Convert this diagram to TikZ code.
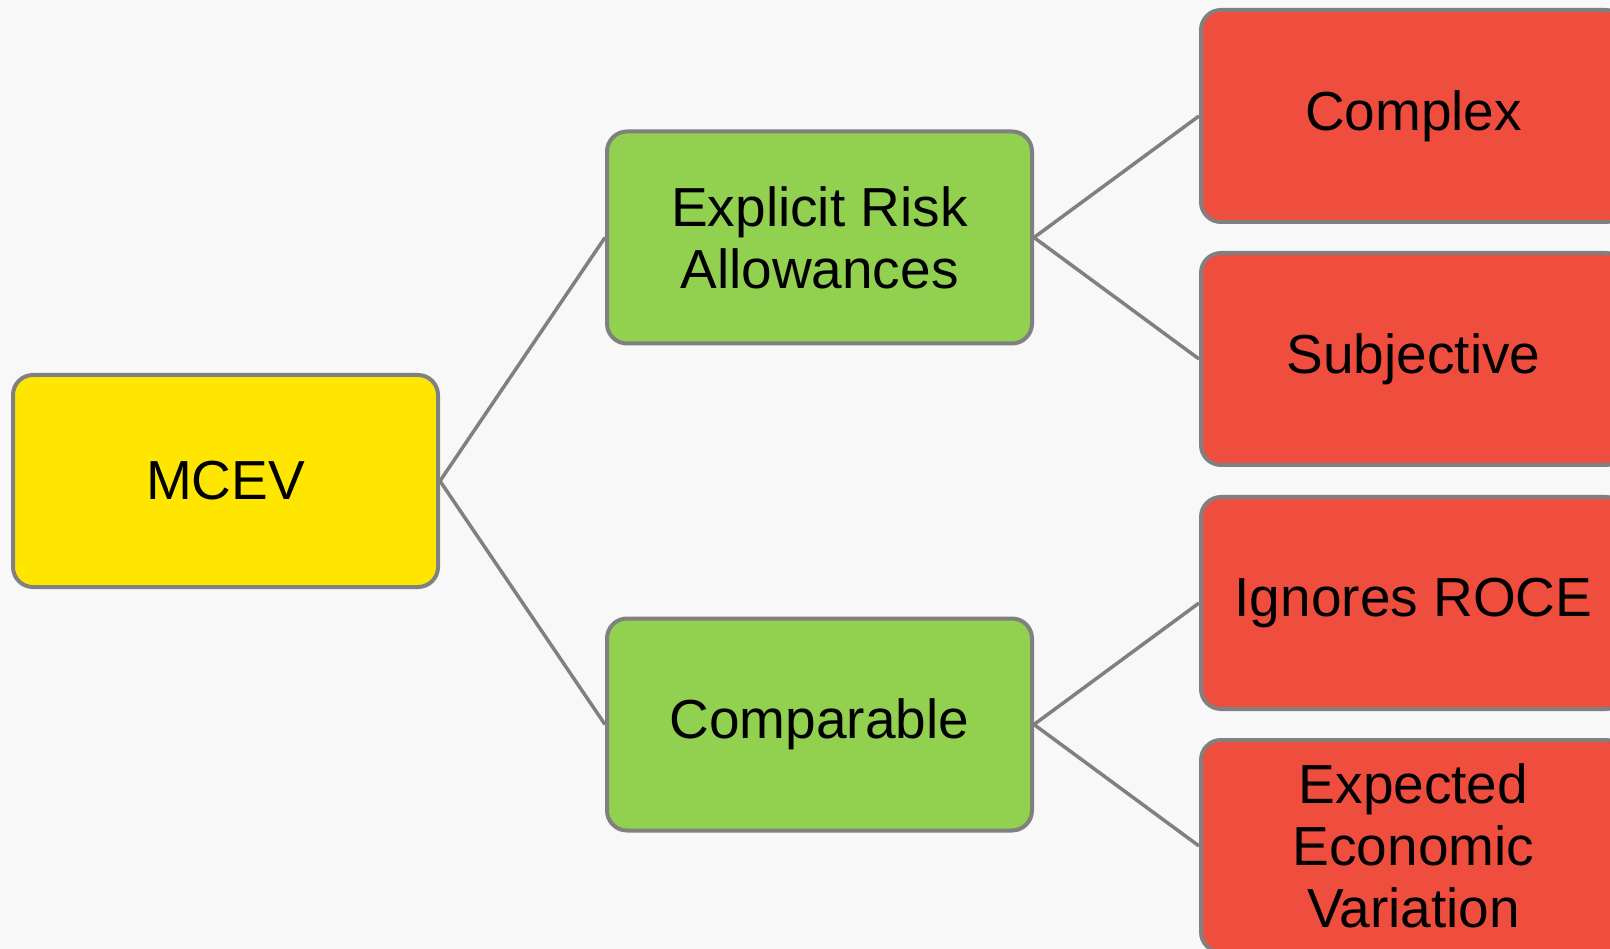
\documentclass[tikz,border=0pt]{standalone}
\usepackage{fontspec}
\setmainfont{Liberation Sans}
\usepackage{tikz}

\definecolor{paper}{HTML}{F8F8F8}
\definecolor{boxgray}{HTML}{808080}
\definecolor{mcevyellow}{HTML}{FFE600}
\definecolor{branchgreen}{HTML}{92D050}
\definecolor{leafred}{HTML}{EF4E3E}

\begin{document}
\begin{tikzpicture}[x=1pt,y=1pt,font=\fontsize{55}{62}\selectfont,
                block/.style={rectangle, rounded corners=20pt, draw=boxgray, line width=4pt,
                              minimum width=425pt, minimum height=212pt, inner sep=0pt, align=center},
                root/.style={block, fill=mcevyellow},
                branch/.style={block, fill=branchgreen},
                leaf/.style={block, fill=leafred},
                link/.style={draw=boxgray, line width=3.5pt},
                grow'=right, level distance=594pt,
                level 1/.style={sibling distance=487pt},
                level 2/.style={sibling distance=243pt},
                edge from parent/.style={draw=none}
            ]
            \useasboundingbox (0,0) rectangle (1610,-949);
            \clip (0,0) rectangle (1610,-949);
            \fill[paper] (0,0) rectangle (1610,-949);

            \node[root](mcev) at (225.5,-481){MCEV}
            child {node[branch](era){Explicit Risk\\Allowances}
                child {node[leaf](complex){Complex}}
                child {node[leaf](subjective){Subjective}}}
            child {node[branch](comparable){Comparable}
                child {node[leaf](roce){Ignores ROCE}}
                child {node[leaf](eev){Expected\\Economic\\Variation}}};
            \path[link] (mcev.east) -- (era.west);
            \path[link] (mcev.east) -- (comparable.west);
            \path[link] (era.east) -- (complex.west);
            \path[link] (era.east) -- (subjective.west);
            \path[link] (comparable.east) -- (roce.west);
            \path[link] (comparable.east) -- (eev.west);
        \end{tikzpicture}
\end{document}
